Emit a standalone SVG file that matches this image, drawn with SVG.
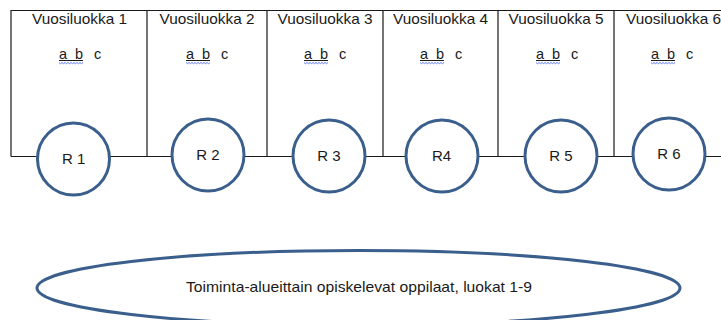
<svg xmlns="http://www.w3.org/2000/svg" width="721" height="320" viewBox="0 0 721 320">
<defs>
<style>
.t{font-family:"Liberation Sans",Arial,sans-serif;fill:#1a1a1a}
.h{font-size:14.5px;text-anchor:middle}
.abc{font-size:14.5px}
.r{font-size:15px;text-anchor:middle}
.ln{stroke:#1a1a1a;stroke-width:1.2;fill:none}
.c{fill:#fff;stroke:#3b5f8c;stroke-width:3}
.sq{stroke:#3355ee;stroke-width:0.8;fill:none}
.ul{stroke:#1a1a1a;stroke-width:1}
</style>
<path id="wave" d="M0,0 l1.5,1.2 l1.5,-1.2 l1.5,1.2 l1.5,-1.2 l1.5,1.2 l1.5,-1.2 l1.5,1.2 l1.5,-1.2 l1.5,1.2 l1.5,-1.2 l1.5,1.2 l1.5,-1.2 l1.5,1.2 l1.5,-1.2 l1.5,1.2 l1.5,-1.2"/>
</defs>
<rect width="721" height="320" fill="#fff"/>
<g id="connectors">
<path class="ln" d="M11,156.5 V10.5 H721 M147,10.5 V156.5 M267,10.5 V156.5 M383,10.5 V156.5 M498,10.5 V156.5 M614,10.5 V156.5 M11,156.5 H721"/>
</g>
<g id="col1">
<text class="t h" x="79.5" y="23.5" textLength="95" lengthAdjust="spacingAndGlyphs">Vuosiluokka 1</text>
<text class="t abc" x="59 75 94" y="59">abc</text>
<line class="ul" x1="59" y1="60.5" x2="83" y2="60.5"/>
<use href="#wave" class="sq" x="59" y="62.5"/>
</g>
<g id="col2">
<text class="t h" x="207" y="23.5" textLength="95" lengthAdjust="spacingAndGlyphs">Vuosiluokka 2</text>
<text class="t abc" x="186 202 221" y="59">abc</text>
<line class="ul" x1="186" y1="60.5" x2="210" y2="60.5"/>
<use href="#wave" class="sq" x="186" y="62.5"/>
</g>
<g id="col3">
<text class="t h" x="325" y="23.5" textLength="95" lengthAdjust="spacingAndGlyphs">Vuosiluokka 3</text>
<text class="t abc" x="304 320 339" y="59">abc</text>
<line class="ul" x1="304" y1="60.5" x2="328" y2="60.5"/>
<use href="#wave" class="sq" x="304" y="62.5"/>
</g>
<g id="col4">
<text class="t h" x="440.5" y="23.5" textLength="95" lengthAdjust="spacingAndGlyphs">Vuosiluokka 4</text>
<text class="t abc" x="420 436 455" y="59">abc</text>
<line class="ul" x1="420" y1="60.5" x2="444" y2="60.5"/>
<use href="#wave" class="sq" x="420" y="62.5"/>
</g>
<g id="col5">
<text class="t h" x="556" y="23.5" textLength="95" lengthAdjust="spacingAndGlyphs">Vuosiluokka 5</text>
<text class="t abc" x="536 552 571" y="59">abc</text>
<line class="ul" x1="536" y1="60.5" x2="560" y2="60.5"/>
<use href="#wave" class="sq" x="536" y="62.5"/>
</g>
<g id="col6">
<text class="t h" x="673.5" y="23.5" textLength="95" lengthAdjust="spacingAndGlyphs">Vuosiluokka 6</text>
<text class="t abc" x="651 667 686" y="59">abc</text>
<line class="ul" x1="651" y1="60.5" x2="675" y2="60.5"/>
<use href="#wave" class="sq" x="651" y="62.5"/>
</g>
<g id="R1"><circle class="c" cx="73.5" cy="159" r="36"/><text class="t r" x="73.7" y="164">R 1</text></g>
<g id="R2"><circle class="c" cx="208" cy="155" r="36"/><text class="t r" x="208" y="160">R 2</text></g>
<g id="R3"><circle class="c" cx="329" cy="156" r="36"/><text class="t r" x="329" y="161">R 3</text></g>
<g id="R4"><circle class="c" cx="442" cy="156" r="36"/><text class="t r" x="441.5" y="161">R4</text></g>
<g id="R5"><circle class="c" cx="561" cy="156" r="36"/><text class="t r" x="561" y="161">R 5</text></g>
<g id="R6"><circle class="c" cx="669" cy="154" r="36"/><text class="t r" x="669" y="159">R 6</text></g>
<g id="ellipse">
<ellipse class="c" cx="358.5" cy="288" rx="321.5" ry="37.5"/>
<text class="t" x="186" y="291.5" font-size="14.5" textLength="346" lengthAdjust="spacingAndGlyphs">Toiminta-alueittain opiskelevat oppilaat, luokat 1-9</text>
</g>
</svg>
